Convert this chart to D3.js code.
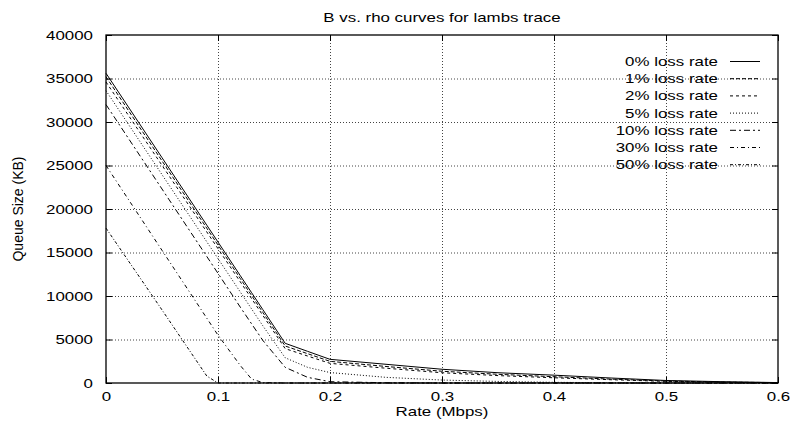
<!DOCTYPE html>
<html>
<head>
<meta charset="utf-8">
<script src="https://cdn.jsdelivr.net/npm/d3@7"></script>
<style>
  body { margin: 0; background: #fff; }
  text { font-family: "Liberation Sans", Arial, sans-serif; }
</style>
</head>
<body>
<svg id="chart"></svg>
<script>
// DATA
const RATES = [0, 0.05, 0.09, 0.1, 0.12, 0.13, 0.14, 0.16, 0.18, 0.2, 0.25, 0.3, 0.35, 0.4, 0.45, 0.5, 0.55, 0.6]
const LOSS_0 = [35600, 25900, 18140, 16200, 12320, 10380, 8440, 4560, 3640, 2720, 2150, 1580, 1180, 900, 580, 290, 150, 50]
const LOSS_1 = [35200, 25530, 17790, 15860, 11990, 10060, 8120, 4250, 3370, 2490, 1900, 1350, 1000, 720, 450, 230, 110, 40]
const LOSS_2 = [34600, 25020, 17360, 15440, 11610, 9700, 7780, 3950, 3100, 2260, 1700, 1180, 850, 600, 380, 190, 90, 30]
const LOSS_5 = [33600, 23950, 16230, 14300, 10440, 8510, 6580, 2900, 1800, 1200, 650, 340, 180, 80, 30, 10, 0, 0]
const LOSS_10 = [32000, 22300, 14540, 12600, 8700, 6800, 4900, 1800, 650, 150, 30, 0, 0, 0, 0, 0, 0, 0]
const LOSS_30 = [25000, 15250, 7450, 5500, 2000, 450, 50, 0, 0, 0, 0, 0, 0, 0, 0, 0, 0, 0]
const LOSS_50 = [17800, 8400, 800, 0, 0, 0, 0, 0, 0, 0, 0, 0, 0, 0, 0, 0, 0, 0]
const SERIES_LABELS = ["0% loss rate", "1% loss rate", "2% loss rate", "5% loss rate", "10% loss rate", "30% loss rate", "50% loss rate"]
const X_TICKS = [0, 0.1, 0.2, 0.3, 0.4, 0.5, 0.6]
const Y_TICKS = [0, 5000, 10000, 15000, 20000, 25000, 30000, 35000, 40000]

// SPACING
const WIDTH = 791
const HEIGHT = 427
const PLOT_LEFT = 106
const PLOT_RIGHT = 778
const PLOT_TOP = 35
const PLOT_BOTTOM = 383
const TICK_SIZE = 6
const TEXT_STRETCH = 1.3 // glyphs in the reference are wider than Liberation Sans
const FONT_SIZE = 13
const Y_LABEL_GAP = 13
const LEGEND_TEXT_X = 718
const LEGEND_LINE_X1 = 730
const LEGEND_LINE_X2 = 760
const LEGEND_FIRST_Y = 61.5
const LEGEND_ROW_STEP = 17.2

// STYLE
const DASHES = [null, "4,2", "3,3", "1,2", "6,3,2,3", "4,3,1,3", "3,2,1,2"]

const seriesValues = [LOSS_0, LOSS_1, LOSS_2, LOSS_5, LOSS_10, LOSS_30, LOSS_50]
const series = SERIES_LABELS.map((label, i) => ({
  label: label,
  dash: DASHES[i],
  points: RATES.map((r, j) => ({ rate: r, queue: seriesValues[i][j] }))
}))

const svg = d3.select("#chart")
  .attr("width", WIDTH)
  .attr("height", HEIGHT)

const x = d3.scaleLinear().domain([0, 0.6]).range([PLOT_LEFT, PLOT_RIGHT])
const y = d3.scaleLinear().domain([0, 40000]).range([PLOT_BOTTOM, PLOT_TOP])

// grid
const gridX = svg.append("g")
  .attr("transform", `translate(0,${PLOT_BOTTOM})`)
  .call(d3.axisBottom(x).tickValues(X_TICKS.slice(1, -1)).tickSize(-(PLOT_BOTTOM - PLOT_TOP)).tickFormat(""))
const gridY = svg.append("g")
  .attr("transform", `translate(${PLOT_LEFT},0)`)
  .call(d3.axisLeft(y).tickValues(Y_TICKS.slice(1, -1)).tickSize(-(PLOT_RIGHT - PLOT_LEFT)).tickFormat(""))
svg.selectAll(".domain").remove()
;[gridX, gridY].forEach(g => g.selectAll("line")
  .attr("stroke", "#444")
  .attr("stroke-width", 1)
  .attr("stroke-dasharray", "1,2"))

// axes, ticks point inward and are mirrored on top / right
const bottomAxis = svg.append("g")
  .attr("transform", `translate(0,${PLOT_BOTTOM})`)
  .call(d3.axisBottom(x).tickValues(X_TICKS).tickSizeInner(-TICK_SIZE).tickSizeOuter(0).tickPadding(9).tickFormat(d3.format("")))
const leftAxis = svg.append("g")
  .attr("transform", `translate(${PLOT_LEFT},0)`)
  .call(d3.axisLeft(y).tickValues(Y_TICKS).tickSizeInner(-TICK_SIZE).tickSizeOuter(0).tickPadding(Y_LABEL_GAP).tickFormat(d3.format("")))
svg.append("g")
  .attr("transform", `translate(0,${PLOT_TOP})`)
  .call(d3.axisTop(x).tickValues(X_TICKS).tickSizeInner(-TICK_SIZE).tickSizeOuter(0).tickFormat(""))
svg.append("g")
  .attr("transform", `translate(${PLOT_RIGHT},0)`)
  .call(d3.axisRight(y).tickValues(Y_TICKS).tickSizeInner(-TICK_SIZE).tickSizeOuter(0).tickFormat(""))

svg.selectAll(".domain").remove()
svg.selectAll(".tick line").filter(function () { return !this.getAttribute("stroke-dasharray") })
  .attr("stroke", "#000")

bottomAxis.selectAll("text")
  .attr("font-size", FONT_SIZE)
  .attr("font-family", null)
  .attr("fill", "#000")
  .attr("transform", `scale(${TEXT_STRETCH},1)`)
leftAxis.selectAll("text")
  .attr("font-size", FONT_SIZE)
  .attr("font-family", null)
  .attr("fill", "#000")
  .attr("x", -Y_LABEL_GAP / TEXT_STRETCH)
  .attr("transform", `scale(${TEXT_STRETCH},1)`)

// plot border
svg.append("rect")
  .attr("x", PLOT_LEFT)
  .attr("y", PLOT_TOP)
  .attr("width", PLOT_RIGHT - PLOT_LEFT)
  .attr("height", PLOT_BOTTOM - PLOT_TOP)
  .attr("fill", "none")
  .attr("stroke", "#000")
  .attr("stroke-width", 1.3)

// curves
const line = d3.line()
  .x(d => x(d.rate))
  .y(d => y(d.queue))

svg.append("g")
  .selectAll("path")
  .data(series)
  .join("path")
  .attr("d", d => line(d.points))
  .attr("fill", "none")
  .attr("stroke", "#000")
  .attr("stroke-width", 1)
  .attr("stroke-dasharray", d => d.dash)

// legend
const legendRows = svg.append("g")
  .selectAll("g")
  .data(series)
  .join("g")
  .attr("transform", (_, i) => `translate(0,${LEGEND_FIRST_Y + i * LEGEND_ROW_STEP})`)

legendRows.append("text")
  .attr("transform", `translate(${LEGEND_TEXT_X},0) scale(${TEXT_STRETCH},1)`)
  .attr("text-anchor", "end")
  .attr("dy", "0.35em")
  .attr("font-size", FONT_SIZE)
  .text(d => d.label)

legendRows.append("line")
  .attr("x1", LEGEND_LINE_X1)
  .attr("x2", LEGEND_LINE_X2)
  .attr("stroke", "#000")
  .attr("stroke-width", 1)
  .attr("stroke-dasharray", d => d.dash)

// titles
svg.append("text")
  .attr("transform", `translate(${(PLOT_LEFT + PLOT_RIGHT) / 2},22) scale(${TEXT_STRETCH},1)`)
  .attr("text-anchor", "middle")
  .attr("font-size", FONT_SIZE)
  .text("B vs. rho curves for lambs trace")

svg.append("text")
  .attr("transform", `translate(${(PLOT_LEFT + PLOT_RIGHT) / 2},416) scale(${TEXT_STRETCH},1)`)
  .attr("text-anchor", "middle")
  .attr("font-size", FONT_SIZE)
  .text("Rate (Mbps)")

svg.append("text")
  .attr("transform", `translate(23,${(PLOT_TOP + PLOT_BOTTOM) / 2}) rotate(-90)`)
  .attr("text-anchor", "middle")
  .attr("font-size", 14)
  .text("Queue Size (KB)")
</script>
</body>
</html>
